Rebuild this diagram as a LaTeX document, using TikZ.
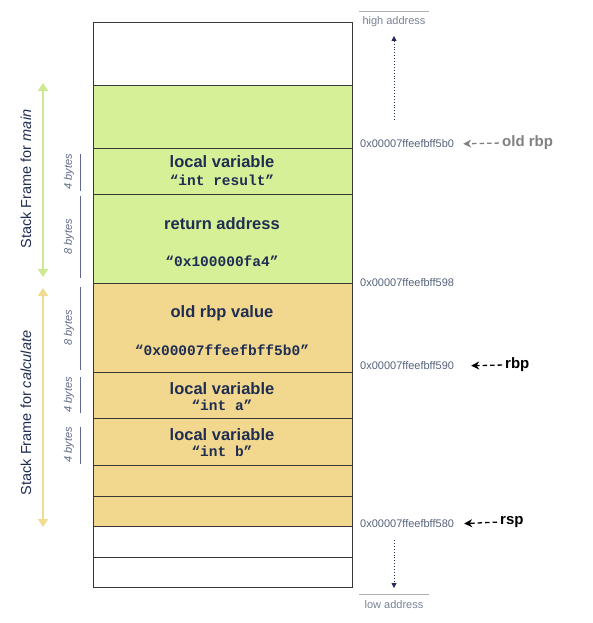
\documentclass[tikz,border=0pt]{standalone}
\usepackage{fontspec}
\setmainfont{Liberation Sans}
\setmonofont{Liberation Mono}
\usetikzlibrary{arrows.meta,positioning}
\definecolor{framegreen}{RGB}{214,240,152}
\definecolor{frametan}{RGB}{241,216,142}
\definecolor{arrowgreen}{RGB}{204,234,146}
\definecolor{arrowtan}{RGB}{240,220,145}
\definecolor{navy}{RGB}{32,45,82}
\definecolor{addrgray}{RGB}{85,98,122}
\definecolor{bargray}{RGB}{95,105,135}
\definecolor{cellline}{RGB}{55,55,55}
\tikzset{
  cell/.style={draw=cellline, line width=0.8pt},
  celltitle/.style={text=navy, font=\bfseries\fontsize{16.5}{18}\selectfont},
  cellcode/.style={text=navy, font=\ttfamily\bfseries\fontsize{14.5}{16}\selectfont},
  bytebar/.style={draw=bargray, line width=0.8pt},
  bytelbl/.style={rotate=90, text=bargray, font=\itshape\fontsize{11}{12}\selectfont},
  framelbl/.style={rotate=90, text=navy, font=\fontsize{14.5}{16}\selectfont},
  framearrow/.style={line width=2.6pt, {Triangle[width=10pt,length=8pt]}-{Triangle[width=10pt,length=8pt]}},
  addr/.style={anchor=west, inner sep=0pt, text=addrgray, font=\fontsize{11}{12}\selectfont},
  ptrlbl/.style={anchor=west, inner sep=0pt, font=\bfseries\fontsize{15}{17}\selectfont},
  ptr/.style={line width=1.3pt, dash pattern=on 4.5pt off 3pt, -{Stealth[length=8pt,width=8pt]}},
  dirarrow/.style={draw=navy, line width=0.9pt, dotted, -{Triangle[length=5pt,width=5pt]}},
  dirlbl/.style={text=addrgray!80, font=\fontsize{11}{13}\selectfont}
}
\begin{document}
\begin{tikzpicture}[x=1pt,y=-1pt]
\useasboundingbox (0,0) rectangle (592,623);
% the stack, high addresses on top
\draw[cell, fill=white] (93,22) rectangle (352,85);
\draw[cell, fill=framegreen] (93,85) rectangle (352,148);
\draw[cell, fill=framegreen] (93,148) rectangle (352,194);
\draw[cell, fill=framegreen] (93,194) rectangle (352,283);
\draw[cell, fill=frametan] (93,283) rectangle (352,372);
\draw[cell, fill=frametan] (93,372) rectangle (352,418);
\draw[cell, fill=frametan] (93,418) rectangle (352,465);
\draw[cell, fill=frametan] (93,465) rectangle (352,496);
\draw[cell, fill=frametan] (93,496) rectangle (352,526);
\draw[cell, fill=white] (93,526) rectangle (352,557);
\draw[cell, fill=white] (93,557) rectangle (352,587);

% cell contents
\node[celltitle] (resvar) at (222,162) {local variable};
\node[cellcode] (resname) at (222,180) {“int result”};
\node[celltitle] (retaddr) at (222,224) {return address};
\node[cellcode] (retval) at (222,261) {“0x100000fa4”};
\node[celltitle] (oldbp) at (222,313) {old rbp value};
\node[cellcode] (oldbpval) at (222,350) {“0x00007ffeefbff5b0”};
\node[celltitle] (avar) at (222,389) {local variable};
\node[cellcode] (aname) at (222,405) {“int a”};
\node[celltitle] (bvar) at (222,435) {local variable};
\node[cellcode] (bname) at (222,451) {“int b”};

% sizes
\draw[bytebar] (80,154) -- (80,191);
\node[bytelbl] (sz1) at (69,172) {4 bytes};
\draw[bytebar] (80,196) -- (80,278);
\node[bytelbl] (sz2) at (69,237) {8 bytes};
\draw[bytebar] (80,287) -- (80,370);
\node[bytelbl] (sz3) at (69,328) {8 bytes};
\draw[bytebar] (80,377) -- (80,413);
\node[bytelbl] (sz4) at (69,395) {4 bytes};
\draw[bytebar] (80,427) -- (80,464);
\node[bytelbl] (sz5) at (69,445) {4 bytes};

% frames
\coordinate (maintop) at (43,83);
\coordinate (mainbot) at (43,277);
\draw[framearrow, arrowgreen] (maintop) -- (mainbot);
\node[framelbl] (mainlbl) at (26,179) {Stack Frame for \textit{main}};
\coordinate (calctop) at (43,288);
\coordinate (calcbot) at (43,527);
\draw[framearrow, arrowtan] (calctop) -- (calcbot);
\node[framelbl] (calclbl) at (26,413) {Stack Frame for \textit{calculate}};

% addresses
\node[addr] (a5b0) at (360,144) {0x00007ffeefbff5b0};
\node[addr] (a598) at (360,283) {0x00007ffeefbff598};
\node[addr] (a590) at (360,366) {0x00007ffeefbff590};
\node[addr] (a580) at (360,524) {0x00007ffeefbff580};

% registers
\node[ptrlbl, text=gray] (oldrbp) at (502,143) {old rbp};
\draw[ptr, gray] (oldrbp.west) -- (a5b0.east) [shorten >=9pt, shorten <=3pt];
\node[ptrlbl] (rbp) at (505,365) {rbp};
\draw[ptr] (rbp.west) -- (a590.east) [shorten >=17pt, shorten <=3pt];
\node[ptrlbl] (rsp) at (500,522) {rsp};
\draw[ptr] (rsp.west) -- (a580.east) [shorten >=10pt, shorten <=3pt];

% growth direction
\draw[gray!60, line width=0.8pt] (359,11) -- (429,11);
\node[dirlbl] (hi) at (394,22) {high address};
\coordinate (upfoot) at (394,120);
\coordinate (uptip) at (394,36);
\draw[dirarrow] (upfoot) -- (uptip);
\coordinate (downtop) at (394,540);
\coordinate (downtip) at (394,588);
\draw[dirarrow] (downtop) -- (downtip);
\draw[gray!60, line width=0.8pt] (359,594) -- (429,594);
\node[dirlbl] (lo) at (394,605) {low address};
\end{tikzpicture}
\end{document}
